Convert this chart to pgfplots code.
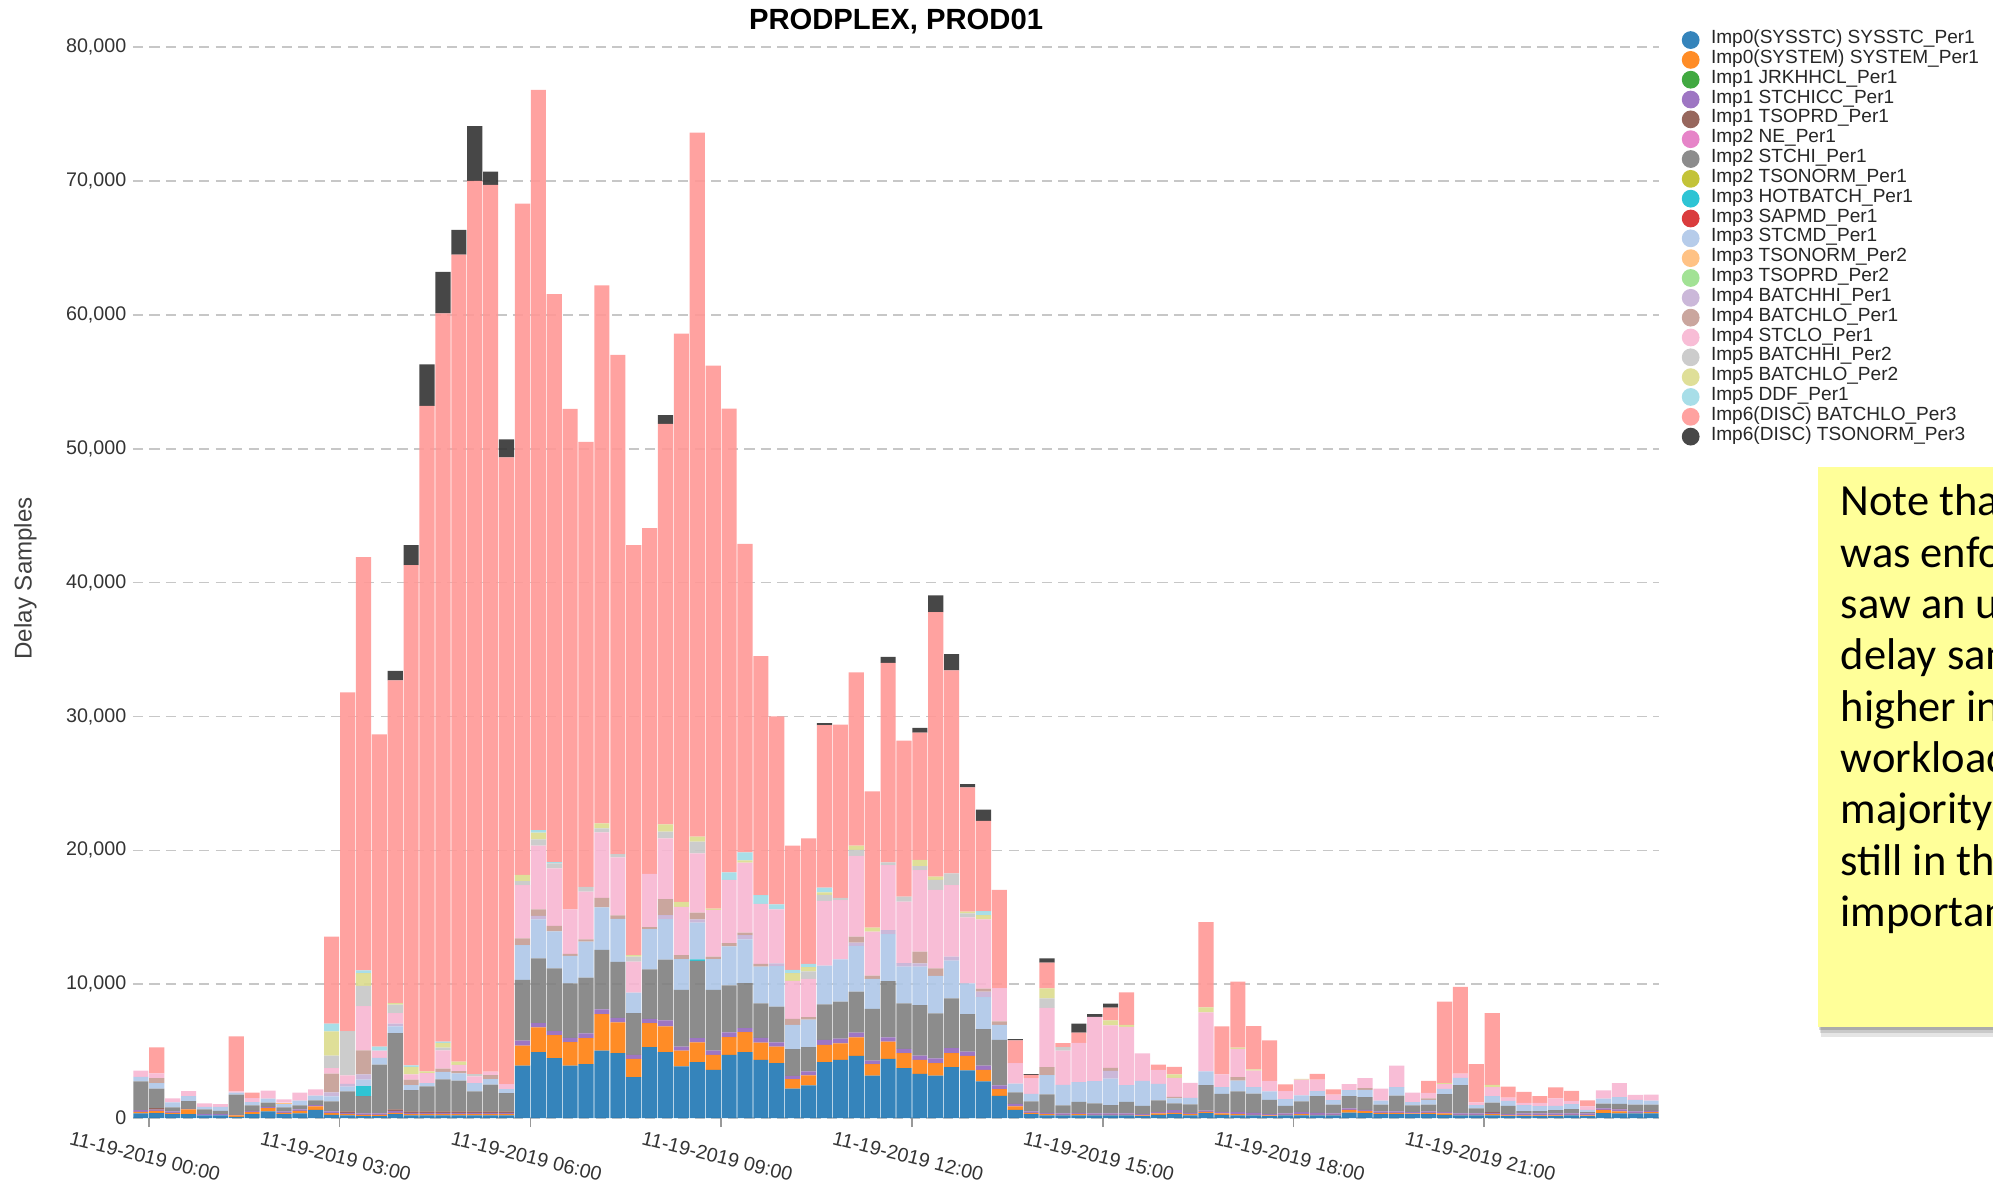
\documentclass[border=0pt]{standalone}
\usepackage{fontspec}
\setmainfont{Liberation Sans}
\newfontfamily\carlito{Carlito}
\usepackage{pgfplots}
\pgfplotsset{compat=1.18}
\usepackage{pgfplotstable}

\definecolor{cb}{HTML}{1F77B4}
\definecolor{co}{HTML}{FF7F0E}
\definecolor{cg}{HTML}{2CA02C}
\definecolor{cp}{HTML}{9467BD}
\definecolor{cbr}{HTML}{8C564B}
\definecolor{cpk}{HTML}{E377C2}
\definecolor{cgy}{HTML}{7F7F7F}
\definecolor{col}{HTML}{BCBD22}
\definecolor{ccy}{HTML}{17BECF}
\definecolor{crd}{HTML}{D62728}
\definecolor{clb}{HTML}{AEC7E8}
\definecolor{clo}{HTML}{FFBB78}
\definecolor{clg}{HTML}{98DF8A}
\definecolor{clp}{HTML}{C5B0D5}
\definecolor{clbr}{HTML}{C49C94}
\definecolor{clpk}{HTML}{F7B6D2}
\definecolor{clgy}{HTML}{C7C7C7}
\definecolor{clol}{HTML}{DBDB8D}
\definecolor{clcy}{HTML}{9EDAE5}
\definecolor{clr}{HTML}{FF9896}
\definecolor{cdk}{HTML}{333333}
\definecolor{noteyellow}{HTML}{FFFF99}

\pgfplotstableread{
x b o g p br pk gy ol cy rd lb lo lg lp lbr lpk lgy lol lcy lr dk
-0.125 0.35 0.12 0 0.12 0 0 2.15 0 0 0 0.35 0 0 0 0 0.45 0 0 0 0 0
0.125 0.37 0.17 0 0.10 0.10 0 1.47 0 0 0 0.40 0 0 0 0.37 0.37 0 0 0 1.94 0
0.375 0.30 0.10 0 0.10 0 0 0.30 0 0 0 0.37 0 0 0 0 0.30 0 0 0 0 0
0.625 0.30 0.35 0 0.05 0 0 0.57 0 0 0 0.37 0 0 0 0 0.37 0 0 0 0 0
0.875 0.20 0 0 0.10 0 0 0.35 0 0 0 0.20 0 0 0 0 0.25 0 0 0 0 0
1.125 0.20 0 0 0.10 0 0 0.25 0 0 0 0.30 0 0 0 0 0.20 0 0 0 0 0
1.375 0.10 0.10 0 0.05 0 0 1.50 0 0 0 0.15 0 0 0 0 0.10 0 0 0 4.10 0
1.625 0.30 0.15 0 0.10 0 0 0.40 0 0 0 0.25 0 0 0 0 0.30 0 0 0 0.40 0
1.875 0.50 0.25 0 0.10 0 0 0.30 0 0 0 0.30 0 0 0 0 0.60 0 0 0 0 0
2.125 0.30 0.10 0 0.10 0 0 0.30 0 0 0 0.25 0.10 0 0 0 0.25 0 0 0 0 0
2.375 0.35 0.20 0 0.10 0 0 0.30 0 0 0 0.35 0 0 0 0 0.60 0 0 0 0 0
2.625 0.62 0.25 0 0.10 0 0 0.35 0 0 0 0.37 0 0 0 0 0.45 0 0 0 0 0
2.875 0.25 0.12 0 0.13 0 0 0.75 0 0 0 0.37 0 0 0.30 1.40 0.42 0.92 1.82 0.57 6.51 0
3.125 0.20 0.10 0 0.10 0.10 0 1.50 0 0 0 0.35 0 0 0.20 0 0.65 3.30 0 0 25.30 0
3.375 0.15 0.10 0 0.10 0 0 1.30 0 0.75 0 0.47 0 0 0.40 1.80 3.30 1.50 0.97 0.20 30.86 0
3.625 0.15 0.10 0 0.10 0 0 3.65 0 0 0 0.50 0 0 0 0 0.55 0 0 0.30 23.31 0
3.875 0.30 0.10 0 0.15 0.10 0 5.70 0 0 0 0.50 0 0 0.20 0 0.80 0.62 0.12 0 24.11 0.70
4.125 0.20 0.10 0 0.10 0.10 0 1.60 0 0 0 0.37 0 0 0 0.40 0.40 0 0.55 0.12 37.36 1.50
4.375 0.20 0.10 0 0.10 0.10 0 1.87 0 0 0 0.25 0 0 0 0 0.75 0 0.12 0 49.71 3.10
4.625 0.20 0.10 0 0.10 0.10 0 2.40 0 0 0 0.55 0 0 0 0.25 1.37 0.20 0.35 0.10 54.38 3.10
4.875 0.20 0.10 0 0.10 0.10 0 2.30 0 0 0 0.55 0 0 0 0.17 0.45 0 0.25 0 60.28 1.85
5.125 0.20 0.10 0 0.10 0.10 0 1.50 0 0 0 0.62 0 0 0 0 0.50 0.17 0 0 66.71 4.10
5.375 0.20 0.10 0 0.10 0.10 0 2.00 0 0 0 0.42 0 0 0 0.30 0.25 0 0 0 66.23 1.00
5.625 0.20 0.10 0 0.10 0.10 0 1.37 0 0 0 0.30 0 0 0 0 0.37 0 0 0 46.81 1.35
5.875 3.93 1.49 0 0.37 0 0 4.53 0 0 0 2.61 0 0 0 0.50 3.98 0.30 0.45 0 50.14 0
6.125 4.93 1.84 0 0.32 0 0 4.85 0 0 0 2.91 0 0 0.25 0.50 4.75 0.47 0.50 0.20 55.28 0
6.375 4.48 1.72 0 0.30 0 0 4.68 0 0 0 2.76 0 0 0 0.42 4.30 0.37 0 0.10 42.42 0
6.625 3.93 1.74 0 0.32 0 0 4.08 0 0 0 2.04 0 0 0 0.15 3.33 0 0 0 37.38 0
6.875 4.03 1.94 0 0.37 0 0 4.15 0 0 0 2.69 0 0 0 0.17 3.56 0.37 0 0 33.22 0
7.125 5.05 2.71 0 0.37 0 0 4.43 0 0 0 3.18 0 0 0 0.72 4.88 0.30 0.37 0 40.19 0
7.375 4.85 2.31 0 0.32 0 0 4.20 0 0 0 3.21 0 0 0 0.25 4.33 0.25 0 0 37.28 0
7.625 3.06 1.37 0 0.30 0 0 3.11 0 0 0 1.54 0 0 0 0 2.31 0.37 0.12 0 30.62 0
7.875 5.30 1.79 0 0.32 0 0 3.71 0 0 0 2.99 0 0 0 0.15 3.98 0 0 0 25.82 0
8.125 4.93 1.92 0 0.45 0 0 4.53 0 0 0 3.03 0 0 0.30 1.19 4.55 0.50 0.55 0 29.90 0.65
8.375 3.86 1.19 0 0.30 0 0 4.23 0 0 0 2.29 0 0 0 0.30 3.61 0 0.37 0 42.45 0
8.625 4.18 1.47 0 0.32 0 0 5.77 0 0.12 0 2.74 0 0 0.25 0.50 4.43 0.87 0.37 0 52.58 0
8.875 3.61 1.12 0 0.32 0 0 4.53 0 0 0 2.29 0 0 0 0.20 3.48 0 0.10 0 40.55 0
9.125 4.73 1.32 0 0.35 0 0 3.51 0 0 0 2.91 0 0 0 0.25 4.73 0 0 0.55 34.65 0
9.375 4.93 1.49 0 0.30 0 0 3.36 0 0 0 3.28 0 0 0.30 0.20 5.22 0 0.17 0.60 23.05 0
9.625 4.35 1.29 0 0.35 0 0 2.59 0 0 0 2.74 0 0 0 0.20 4.48 0 0 0.65 17.85 0
9.875 4.10 1.24 0 0.32 0 0 2.66 0 0 0 3.03 0 0 0.20 0 4.05 0 0 0.37 14.03 0
10.125 2.21 0.70 0 0.25 0 0 1.99 0 0 0 1.82 0 0 0 0.45 2.84 0 0.57 0.25 9.27 0
10.375 2.44 0.75 0 0.30 0 0 1.82 0 0 0 2.04 0 0 0 0.20 2.86 0.55 0.32 0.25 9.37 0
10.625 4.18 1.29 0 0.37 0 0 2.66 0 0 0 2.89 0 0 0 0 4.83 0.45 0.20 0.35 12.13 0.15
10.875 4.35 1.24 0 0.35 0 0 2.76 0 0 0 3.16 0 0 0 0 4.43 0.17 0 0 12.94 0
11.125 4.65 1.39 0 0.35 0 0 3.06 0 0 0 3.41 0 0 0.25 0.45 6.02 0.45 0.32 0 12.95 0
11.375 3.18 0.85 0 0.27 0 0 3.86 0 0 0 2.24 0 0 0 0.25 3.28 0 0.30 0 10.17 0
11.625 4.43 1.29 0 0.32 0 0 4.20 0 0 0 3.51 0 0 0.30 0 4.85 0.20 0 0 14.90 0.45
11.875 3.73 1.12 0 0.32 0 0 3.41 0 0 0 2.74 0 0 0.25 0 4.60 0.37 0 0 11.66 0
12.125 3.31 1.04 0 0.32 0 0 3.78 0 0 0 2.86 0 0 0.25 0.87 6.10 0.30 0.45 0 9.52 0.35
12.375 3.18 0.92 0 0.37 0 0 3.36 0 0 0 2.79 0 0 0 0.57 5.85 0.75 0.25 0 19.76 1.25
12.625 3.81 1.04 0 0.37 0 0 3.73 0 0 0 2.81 0 0 0.30 0 5.35 0.87 0 0 15.17 1.20
12.875 3.56 1.09 0 0.32 0 0 2.79 0 0 0 2.31 0 0 0 0 4.93 0.30 0.12 0 9.28 0.25
13.125 2.74 0.87 0 0.32 0 0 2.71 0 0 0 2.39 0 0 0.42 0.22 5.17 0 0.32 0.30 6.74 0.85
13.375 1.67 0.50 0 0.27 0 0 3.41 0 0 0 1.12 0 0 0 0.25 2.49 0 0 0 7.33 0
13.625 0.62 0.25 0 0.20 0 0 0.85 0 0 0 0.65 0 0 0 0 1.54 0 0 0 1.69 0.10
13.875 0.30 0.10 0 0.10 0 0 0.75 0 0 0 0.57 0 0 0 0 1.17 0 0 0 0.25 0.05
14.125 0.20 0.10 0 0.10 0 0 1.37 0 0 0 1.44 0 0 0 0.60 4.43 0.70 0.75 0 1.92 0.32
14.375 0.20 0.05 0 0.10 0 0 0.60 0 0 0 1.54 0 0 0 0 2.56 0.25 0 0 0.30 0
14.625 0.20 0.10 0 0.10 0 0 0.82 0 0 0 1.47 0 0 0 0 2.94 0 0 0 0.75 0.67
14.875 0.20 0.05 0 0.10 0 0 0.75 0 0 0 1.67 0 0 0 0 4.80 0 0 0 0 0.20
15.125 0.20 0.05 0 0.10 0 0 0.62 0 0 0 1.99 0 0 0.57 0.22 3.18 0 0.37 0 0.95 0.30
15.375 0.20 0.05 0 0.10 0 0 0.87 0 0 0 1.24 0 0 0 0 4.35 0 0.15 0 2.44 0
15.625 0.15 0.05 0 0.10 0 0 0.62 0 0 0 1.87 0 0 0 0 2.04 0 0 0 0 0
15.875 0.25 0.10 0 0.10 0 0 0.87 0 0 0 1.24 0 0 0 0 1.04 0 0 0 0.40 0
16.125 0.30 0.10 0 0.20 0 0 0.50 0 0 0 0.37 0 0 0 0.12 1.42 0 0.25 0 0.57 0
16.375 0.20 0.10 0 0.10 0 0 0.62 0 0 0 0.50 0 0 0 0 1.12 0 0 0 0 0
16.625 0.37 0.10 0 0.10 0 0 1.89 0 0 0 1.04 0 0 0 0 4.40 0 0.37 0 6.37 0
16.875 0.25 0.10 0 0.10 0 0 1.37 0 0 0 0.50 0 0 0 0 0.95 0 0 0 3.58 0
17.125 0.20 0.10 0 0.15 0 0 1.54 0 0 0 0.82 0 0 0 0.25 2.11 0 0.10 0 4.93 0
17.375 0.20 0.05 0 0.15 0 0 1.44 0 0 0 0.47 0 0 0 0 1.24 0 0.10 0 3.23 0
17.625 0.15 0.05 0 0.10 0 0 1.07 0 0 0 0.62 0 0 0 0 0.80 0 0 0 3.01 0
17.875 0.20 0.05 0 0.10 0 0 0.57 0 0 0 0.50 0 0 0 0 0.60 0 0 0 0.50 0
18.125 0.20 0.10 0 0.15 0 0 0.80 0 0 0 0.45 0 0 0 0 1.17 0 0.07 0 0 0
18.375 0.20 0.05 0 0.15 0 0 1.24 0 0 0 0.37 0 0 0 0 0.87 0 0 0 0.42 0
18.625 0.20 0.05 0 0.10 0 0 0.65 0 0 0 0.35 0 0 0 0 0.40 0 0 0 0.40 0
18.875 0.42 0.20 0 0.10 0 0 0.92 0 0 0 0.45 0 0 0 0 0.45 0 0 0 0 0
19.125 0.37 0.15 0 0.10 0 0 0.95 0 0 0 0.55 0 0 0 0.12 0.75 0 0 0 0 0
19.375 0.30 0.10 0 0.10 0 0 0.50 0 0 0 0.30 0 0 0 0 0.90 0 0 0 0 0
19.625 0.30 0.10 0 0.10 0 0 1.19 0 0 0 0.62 0 0 0 0 1.62 0 0 0 0 0
19.875 0.30 0.05 0 0.10 0 0 0.50 0 0 0 0.25 0 0 0 0 0.70 0 0 0 0 0
20.125 0.30 0.10 0 0.10 0 0 0.50 0 0 0 0.37 0 0 0 0.10 0.42 0 0 0 0.90 0
20.375 0.25 0.10 0 0.10 0 0 1.34 0 0 0 0.40 0 0 0 0 0.35 0 0.07 0 6.10 0
20.625 0.20 0.05 0 0.10 0 0 2.11 0 0 0 0.55 0 0 0 0 0.32 0 0 0 6.47 0
20.875 0.20 0.05 0 0.10 0 0 0.37 0 0 0 0.25 0 0 0 0 0.20 0 0 0 2.86 0
21.125 0.20 0.10 0 0.10 0.05 0 0.70 0 0 0 0.50 0 0 0 0 0.67 0 0.17 0 5.35 0
21.375 0.15 0.05 0 0.10 0 0 0.62 0 0 0 0.37 0 0 0 0 0.25 0 0 0 0.82 0
21.625 0.15 0.05 0 0.15 0 0 0.17 0 0 0 0.45 0 0 0 0 0.17 0 0 0 0.82 0
21.875 0.15 0.05 0 0.15 0 0 0.17 0 0 0 0.37 0 0 0 0 0.25 0 0 0 0.50 0
22.125 0.15 0.05 0 0.15 0 0 0.25 0 0 0 0.32 0 0 0 0 0.55 0 0 0 0.82 0
22.375 0.20 0.05 0 0.10 0 0 0.32 0 0 0 0.37 0 0 0 0 0.25 0 0 0 0.75 0
22.625 0.15 0.05 0 0.15 0 0 0.10 0 0 0 0.17 0 0 0 0 0.25 0 0 0 0.45 0
22.875 0.37 0.25 0 0.10 0 0 0.37 0 0 0 0.37 0 0 0 0 0.62 0 0 0 0 0
23.125 0.35 0.15 0 0.15 0.05 0 0.37 0 0 0 0.50 0 0 0 0 1.04 0 0 0 0 0
23.375 0.35 0.05 0 0.10 0 0 0.50 0 0 0 0.37 0 0 0 0 0.37 0 0 0 0 0
23.625 0.35 0.10 0 0.10 0 0 0.45 0 0 0 0.30 0 0 0 0 0.45 0 0 0 0 0
}\data

\pgfplotsset{
  sb/.style={fill=#1, draw=none, fill opacity=0.9,
    legend image code/.code={\fill[#1] (0pt,0pt) circle (7pt);}},
}

\begin{document}
\begin{tikzpicture}[x=1pt,y=1pt]
\useasboundingbox (0,0) rectangle (1568,933);
\begin{axis}[
  at={(104.6pt,53.3pt)}, anchor=south west,
  scale only axis, width=1200.7pt, height=842.7pt,
  ybar stacked, bar width=0.238,
  enlargelimits=false,
  xmin=-0.25, xmax=23.75, ymin=0, ymax=80,
  xtick={0,3,6,9,12,15,18,21},
  xticklabels={11-19-2019 00:00,11-19-2019 03:00,11-19-2019 06:00,11-19-2019 09:00,11-19-2019 12:00,11-19-2019 15:00,11-19-2019 18:00,11-19-2019 21:00},
  ytick={0,10,20,30,40,50,60,70,80},
  yticklabels={0,{10,000},{20,000},{30,000},{40,000},{50,000},{60,000},{70,000},{80,000}},
  ymajorgrids,
  grid style={dash pattern=on 8pt off 5pt, line width=1.3pt, color=black!22},
  axis line style={draw=none},
  tick pos=left,
  tick align=outside, major tick length=7pt,
  xtick style={draw=black!40, line width=1.3pt},
  ytick style={draw=none},
  tick label style={font=\fontsize{15.5}{17}\selectfont, text=black!80},
  xticklabel style={anchor=center, xshift=-3pt, yshift=-23pt, rotate=-14},
  yticklabel style={anchor=east, inner sep=0pt, xshift=2pt},
  title={PRODPLEX, PROD01},
  title style={font=\bfseries\fontsize{23}{25}\selectfont, at={(axis description cs:0.5,1.0095)}, anchor=base},
  ylabel={Delay Samples},
  every axis y label/.style={at={(axis description cs:-0.0705,0.504)}, rotate=90, anchor=center, font=\fontsize{19}{21}\selectfont, text=black!75},
  legend style={at={(axis description cs:1.0147,1.016)}, anchor=north west, draw=none, fill=none,
    font=\fontsize{15}{15}\selectfont, text=black!85, row sep=0pt, column sep=9pt, inner sep=0pt,
    nodes={inner sep=0pt, text height=10.6pt, text depth=5pt}},
  legend cell align=left,
]
\addplot[sb=cb] table[x=x,y=b]{\data};
\addplot[sb=co] table[x=x,y=o]{\data};
\addplot[sb=cg] table[x=x,y=g]{\data};
\addplot[sb=cp] table[x=x,y=p]{\data};
\addplot[sb=cbr] table[x=x,y=br]{\data};
\addplot[sb=cpk] table[x=x,y=pk]{\data};
\addplot[sb=cgy] table[x=x,y=gy]{\data};
\addplot[sb=col] table[x=x,y=ol]{\data};
\addplot[sb=ccy] table[x=x,y=cy]{\data};
\addplot[sb=crd] table[x=x,y=rd]{\data};
\addplot[sb=clb] table[x=x,y=lb]{\data};
\addplot[sb=clo] table[x=x,y=lo]{\data};
\addplot[sb=clg] table[x=x,y=lg]{\data};
\addplot[sb=clp] table[x=x,y=lp]{\data};
\addplot[sb=clbr] table[x=x,y=lbr]{\data};
\addplot[sb=clpk] table[x=x,y=lpk]{\data};
\addplot[sb=clgy] table[x=x,y=lgy]{\data};
\addplot[sb=clol] table[x=x,y=lol]{\data};
\addplot[sb=clcy] table[x=x,y=lcy]{\data};
\addplot[sb=clr] table[x=x,y=lr]{\data};
\addplot[sb=cdk] table[x=x,y=dk]{\data};
\legend{Imp0(SYSSTC) SYSSTC\_Per1, Imp0(SYSTEM) SYSTEM\_Per1, Imp1 JRKHHCL\_Per1, Imp1 STCHICC\_Per1, Imp1 TSOPRD\_Per1, Imp2 NE\_Per1, Imp2 STCHI\_Per1, Imp2 TSONORM\_Per1, Imp3 HOTBATCH\_Per1, Imp3 SAPMD\_Per1, Imp3 STCMD\_Per1, Imp3 TSONORM\_Per2, Imp3 TSOPRD\_Per2, Imp4 BATCHHI\_Per1, Imp4 BATCHLO\_Per1, Imp4 STCLO\_Per1, Imp5 BATCHHI\_Per2, Imp5 BATCHLO\_Per2, Imp5 DDF\_Per1, Imp6(DISC) BATCHLO\_Per3, Imp6(DISC) TSONORM\_Per3}
\end{axis}
\begin{scope}
\clip (0,0) rectangle (1568,933);
\fill[black, opacity=0.10] (1433,117) rectangle (1575,125);
\fill[black, opacity=0.12] (1432,120) rectangle (1575,125);
\fill[black, opacity=0.15] (1431,122.5) rectangle (1575,125);
\fill[noteyellow] (1430.6,125) rectangle (1580,565.3);
\begin{scope}[every node/.style={anchor=base west, inner sep=0pt, font=\carlito\fontsize{35}{40}\selectfont}]
\node at (1448,527.3) {Note that};
\node at (1448,486.9) {was enforced};
\node at (1448,446.5) {saw an uptick};
\node at (1448,406.1) {delay samples};
\node at (1448,365.7) {higher in};
\node at (1448,325.3) {workloads};
\node at (1448,284.9) {majority of};
\node at (1448,244.5) {still in the};
\node at (1448,204.1) {important};
\end{scope}
\end{scope}
\end{tikzpicture}
\end{document}
